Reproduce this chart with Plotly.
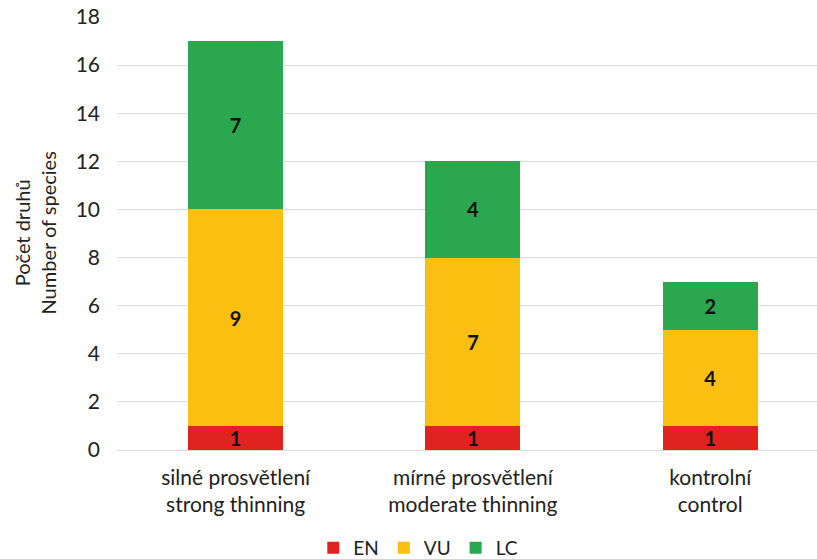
import plotly.graph_objects as go

categories = ["silné prosvětlení<br>strong thinning", "mírné prosvětlení<br>moderate thinning", "kontrolní<br>control"]
series_names = ["EN", "VU", "LC"]
en_values = [1, 1, 1]
vu_values = [9, 7, 4]
lc_values = [7, 4, 2]
y_ticks = [0, 2, 4, 6, 8, 10, 12, 14, 16, 18]

colors = {"EN": "#E0231F", "VU": "#FBBF12", "LC": "#2BA84F"}
FONT = "Lato"

fig = go.Figure()
for name, vals in zip(series_names, [en_values, vu_values, lc_values]):
    fig.add_trace(go.Bar(
        x=list(range(len(categories))), y=vals, name=name,
        marker=dict(color=colors[name], line=dict(width=0)),
        width=0.4,
        text=[f"<b>{v}</b>" for v in vals], textposition="inside",
        insidetextanchor="middle", textangle=0, constraintext="none",
        textfont=dict(family=FONT, size=20, color="#111111"),
    ))

fig.update_layout(
    barmode="stack",
    width=817, height=559,
    margin=dict(l=117, r=0, t=17, b=109),
    plot_bgcolor="white", paper_bgcolor="white",
    font=dict(family=FONT, size=20, color="#222222"),
    showlegend=True,
    legend=dict(orientation="h", xref="container", yref="container",
                x=0.512, xanchor="center", y=1 - 548 / 559, yanchor="middle",
                font=dict(family=FONT, size=19, color="#222222"),
                itemwidth=30, traceorder="normal"),
    xaxis=dict(
        tickmode="array", tickvals=list(range(len(categories))), ticktext=categories,
        range=[-0.5, 2.45], showgrid=False, zeroline=False, showline=False,
        ticks="", ticklabelstandoff=13,
        tickfont=dict(family=FONT, size=21, color="#222222"),
    ),
    yaxis=dict(
        range=[0, 18], tickmode="array", tickvals=y_ticks,
        showgrid=True, gridcolor="#D9D9D9", gridwidth=1,
        zeroline=True, zerolinecolor="#D9D9D9", zerolinewidth=1,
        showline=False, ticks="", ticklabelstandoff=16,
        tickfont=dict(family=FONT, size=21, color="#222222"),
    ),
    annotations=[dict(
        text="Počet druhů<br>Number of species", textangle=-90,
        xref="paper", yref="paper", x=(34 - 117) / 700, y=0.5,
        xanchor="center", yanchor="middle", showarrow=False,
        font=dict(family=FONT, size=20, color="#222222"),
    )],
)

fig.write_html("out.html")
